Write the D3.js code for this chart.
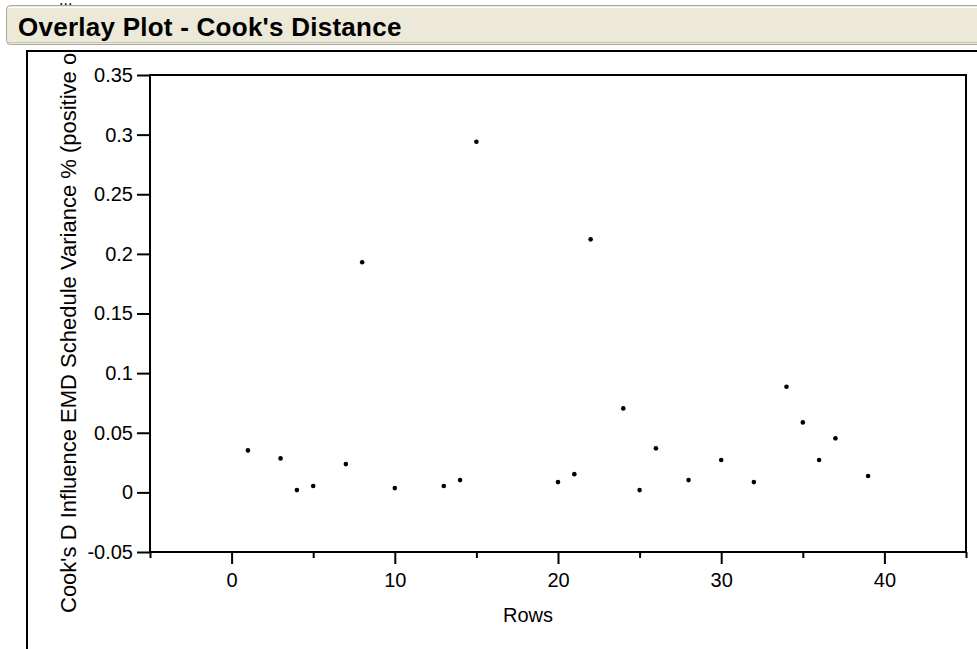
<!DOCTYPE html>
<html>
<head>
<meta charset="utf-8">
<script src="https://cdn.jsdelivr.net/npm/d3@7"></script>
<style>
  body { margin: 0; background: #fff; }
  svg { display: block; font-family: Arial, "Liberation Sans", sans-serif; }
</style>
</head>
<body>
<svg id="chart" width="977" height="649"></svg>
<script>
// Cook's D per row (rows with no value are left out)
let rows = [1, 3, 4, 5, 7, 8, 10, 13, 14, 15, 20, 21, 22, 24, 25, 26, 28, 30, 32, 34, 35, 36, 37, 39];
let cooksD = [0.0352, 0.0285, 0.0019, 0.0053, 0.0237, 0.193, 0.0036, 0.0053, 0.0103, 0.294,
  0.0086, 0.0153, 0.2122, 0.0704, 0.0019, 0.0369, 0.0103, 0.0271, 0.0086, 0.0886,
  0.0587, 0.0271, 0.0453, 0.0137];
let xTicks = [0, 10, 20, 30, 40];
let xMinorTicks = [-5, 5, 15, 25, 35, 45];
let yTicks = [-0.05, 0, 0.05, 0.1, 0.15, 0.2, 0.25, 0.3, 0.35];
let yTickLabels = ['-0.05', '0', '0.05', '0.1', '0.15', '0.2', '0.25', '0.3', '0.35'];

let data = rows.map((r, i) => ({ row: r, d: cooksD[i] }));

let svg = d3.select('#chart');

// outline box header
let bar = svg.append('g');
bar.append('rect')
  .attr('x', 6.5).attr('y', 5.5)
  .attr('width', 980).attr('height', 39)
  .attr('rx', 4)
  .attr('fill', '#ece9d8')
  .attr('stroke', '#aca899');
bar.append('line')
  .attr('x1', 8).attr('x2', 977)
  .attr('y1', 7.5).attr('y2', 7.5)
  .attr('stroke', '#fff');
bar.append('line')
  .attr('x1', 8).attr('x2', 977)
  .attr('y1', 42.5).attr('y2', 42.5)
  .attr('stroke', '#c9c5b5');
bar.append('text')
  .attr('x', 18).attr('y', 36)
  .attr('font-size', 26)
  .attr('font-weight', 'bold')
  .attr('letter-spacing', 0.25)
  .text('Overlay Plot - Cook\'s Distance');

svg.append('text')
  .attr('x', 59).attr('y', 5)
  .attr('font-size', 16)
  .text('...');

// box border
svg.append('path')
  .attr('d', 'M27,649V51H977')
  .attr('fill', 'none')
  .attr('stroke', '#000')
  .attr('stroke-width', 2);

let m = { left: 150, right: 966, top: 75, bottom: 552 };

let x = d3.scaleLinear().domain([-5, 45]).range([m.left, m.right]);
let y = d3.scaleLinear().domain([-0.05, 0.35]).range([m.bottom, m.top]);

// y axis title, clipped by the box border
svg.append('clipPath').attr('id', 'clipLabel')
  .append('rect').attr('x', 28).attr('y', 52).attr('width', 100).attr('height', 597);

svg.append('g')
  .attr('clip-path', 'url(#clipLabel)')
  .append('text')
  .attr('transform', 'translate(76,613) rotate(-90)')
  .attr('font-size', 22)
  .text('Cook\'s D Influence EMD Schedule Variance % (positive or negative)');

// frame
svg.append('rect')
  .attr('x', m.left).attr('y', m.top)
  .attr('width', m.right - m.left).attr('height', m.bottom - m.top)
  .attr('fill', 'none')
  .attr('stroke', '#000')
  .attr('stroke-width', 2);

// y axis
let yAxis = svg.append('g')
  .attr('transform', `translate(${m.left},0)`)
  .call(d3.axisLeft(y).tickValues(yTicks).tickSize(13).tickPadding(4)
    .tickFormat((d, i) => yTickLabels[i]));
yAxis.select('.domain').remove();
yAxis.selectAll('line').attr('stroke-width', 2);
yAxis.selectAll('text').attr('font-size', 20).attr('font-family', null).attr('fill', '#000');

// x axis
let xAxis = svg.append('g')
  .attr('transform', `translate(0,${m.bottom})`)
  .call(d3.axisBottom(x).tickValues(xTicks).tickSize(12).tickPadding(9));
xAxis.select('.domain').remove();
xAxis.selectAll('line').attr('stroke-width', 2);
xAxis.selectAll('text').attr('font-size', 20).attr('font-family', null).attr('fill', '#000');

let xMinor = svg.append('g')
  .attr('transform', `translate(0,${m.bottom})`)
  .call(d3.axisBottom(x).tickValues(xMinorTicks).tickSize(6).tickFormat(''));
xMinor.select('.domain').remove();
xMinor.selectAll('line').attr('stroke-width', 2);

svg.append('text')
  .attr('x', (m.left + m.right) / 2 - 30)
  .attr('y', 622)
  .attr('text-anchor', 'middle')
  .attr('font-size', 20)
  .text('Rows');

// points
svg.append('g')
  .selectAll('circle')
  .data(data)
  .join('circle')
  .attr('cx', d => x(d.row))
  .attr('cy', d => y(d.d))
  .attr('r', 2.3)
  .attr('fill', '#000');
</script>
</body>
</html>
